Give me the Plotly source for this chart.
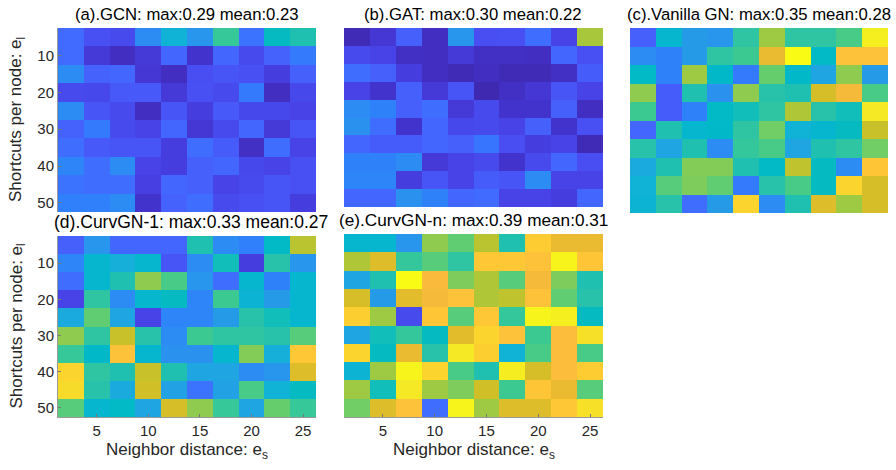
import plotly.graph_objects as go

# ---------------- data ----------------
x_dist = [2.5, 5, 7.5, 10, 12.5, 15, 17.5, 20, 22.5, 25]      # neighbor distance e_s (cell centres)
y_short = [5, 10, 15, 20, 25, 30, 35, 40, 45, 50]              # shortcuts per node e_l (cell centres)
x_ticks = [5, 10, 15, 20, 25]
y_ticks = [10, 20, 30, 40, 50]

titles = [
    "(a).GCN: max:0.29 mean:0.23",
    "(b).GAT: max:0.30 mean:0.22",
    "(c).Vanilla GN: max:0.35 mean:0.28",
    "(d).CurvGN-1: max:0.33 mean:0.27",
    "(e).CurvGN-n: max:0.39 mean:0.31",
]

gcn = [
    [0.224, 0.212, 0.209, 0.238, 0.259, 0.243, 0.281, 0.227, 0.267, 0.273],
    [0.224, 0.201, 0.195, 0.201, 0.222, 0.198, 0.222, 0.209, 0.220, 0.230],
    [0.238, 0.220, 0.222, 0.200, 0.195, 0.211, 0.214, 0.212, 0.203, 0.219],
    [0.209, 0.208, 0.216, 0.216, 0.201, 0.212, 0.209, 0.230, 0.195, 0.208],
    [0.238, 0.214, 0.209, 0.195, 0.214, 0.203, 0.216, 0.208, 0.208, 0.206],
    [0.220, 0.230, 0.209, 0.206, 0.222, 0.200, 0.209, 0.222, 0.201, 0.214],
    [0.225, 0.216, 0.214, 0.214, 0.203, 0.225, 0.217, 0.196, 0.225, 0.206],
    [0.235, 0.225, 0.238, 0.206, 0.203, 0.219, 0.222, 0.208, 0.206, 0.212],
    [0.227, 0.225, 0.225, 0.204, 0.222, 0.219, 0.206, 0.209, 0.214, 0.212],
    [0.232, 0.232, 0.238, 0.198, 0.220, 0.225, 0.209, 0.212, 0.214, 0.203],
]
gat = [
    [0.193, 0.200, 0.219, 0.195, 0.243, 0.211, 0.212, 0.225, 0.206, 0.304],
    [0.209, 0.206, 0.196, 0.195, 0.201, 0.196, 0.196, 0.195, 0.222, 0.212],
    [0.225, 0.219, 0.203, 0.195, 0.193, 0.195, 0.193, 0.193, 0.196, 0.217],
    [0.206, 0.198, 0.219, 0.201, 0.214, 0.192, 0.196, 0.200, 0.214, 0.206],
    [0.238, 0.233, 0.219, 0.225, 0.201, 0.209, 0.198, 0.198, 0.219, 0.195],
    [0.241, 0.225, 0.198, 0.222, 0.208, 0.209, 0.206, 0.219, 0.198, 0.212],
    [0.222, 0.217, 0.217, 0.222, 0.219, 0.228, 0.211, 0.203, 0.206, 0.193],
    [0.233, 0.233, 0.238, 0.201, 0.206, 0.209, 0.198, 0.209, 0.222, 0.211],
    [0.235, 0.235, 0.203, 0.214, 0.206, 0.217, 0.214, 0.238, 0.206, 0.206],
    [0.222, 0.222, 0.241, 0.233, 0.222, 0.224, 0.206, 0.206, 0.203, 0.222],
]
vanilla_gn = [
    [0.219, 0.262, 0.246, 0.243, 0.278, 0.302, 0.278, 0.278, 0.286, 0.345],
    [0.238, 0.233, 0.246, 0.278, 0.283, 0.318, 0.350, 0.265, 0.326, 0.326],
    [0.265, 0.233, 0.302, 0.264, 0.230, 0.292, 0.264, 0.251, 0.299, 0.246],
    [0.299, 0.217, 0.273, 0.241, 0.299, 0.275, 0.273, 0.313, 0.321, 0.286],
    [0.283, 0.217, 0.233, 0.265, 0.270, 0.278, 0.305, 0.275, 0.270, 0.342],
    [0.222, 0.273, 0.262, 0.264, 0.278, 0.294, 0.259, 0.262, 0.267, 0.310],
    [0.275, 0.251, 0.273, 0.238, 0.280, 0.286, 0.251, 0.273, 0.278, 0.294],
    [0.254, 0.273, 0.297, 0.297, 0.273, 0.265, 0.308, 0.267, 0.238, 0.328],
    [0.259, 0.289, 0.296, 0.291, 0.230, 0.275, 0.286, 0.267, 0.334, 0.313],
    [0.260, 0.275, 0.225, 0.246, 0.334, 0.238, 0.273, 0.315, 0.302, 0.313],
]
curvgn_1 = [
    [0.219, 0.243, 0.222, 0.222, 0.222, 0.273, 0.238, 0.232, 0.265, 0.307],
    [0.235, 0.262, 0.257, 0.262, 0.214, 0.238, 0.270, 0.203, 0.275, 0.243],
    [0.225, 0.262, 0.273, 0.299, 0.286, 0.243, 0.225, 0.262, 0.233, 0.262],
    [0.206, 0.278, 0.238, 0.262, 0.267, 0.235, 0.283, 0.260, 0.246, 0.262],
    [0.254, 0.291, 0.251, 0.206, 0.235, 0.235, 0.246, 0.275, 0.270, 0.262],
    [0.299, 0.278, 0.310, 0.275, 0.238, 0.283, 0.278, 0.278, 0.275, 0.289],
    [0.281, 0.264, 0.326, 0.262, 0.241, 0.241, 0.262, 0.297, 0.257, 0.329],
    [0.334, 0.278, 0.273, 0.310, 0.273, 0.251, 0.251, 0.238, 0.243, 0.315],
    [0.337, 0.275, 0.254, 0.312, 0.249, 0.227, 0.249, 0.286, 0.259, 0.267],
    [0.289, 0.262, 0.265, 0.251, 0.313, 0.299, 0.281, 0.251, 0.292, 0.281],
]
curvgn_n = [
    [0.262, 0.262, 0.243, 0.299, 0.291, 0.307, 0.273, 0.331, 0.318, 0.318],
    [0.305, 0.315, 0.280, 0.289, 0.278, 0.329, 0.329, 0.326, 0.347, 0.328],
    [0.251, 0.273, 0.350, 0.323, 0.296, 0.305, 0.289, 0.321, 0.296, 0.273],
    [0.313, 0.246, 0.316, 0.321, 0.326, 0.305, 0.308, 0.326, 0.291, 0.275],
    [0.332, 0.302, 0.209, 0.328, 0.289, 0.329, 0.280, 0.347, 0.345, 0.267],
    [0.251, 0.270, 0.280, 0.267, 0.316, 0.334, 0.326, 0.283, 0.324, 0.339],
    [0.334, 0.267, 0.318, 0.275, 0.342, 0.332, 0.259, 0.286, 0.324, 0.286],
    [0.260, 0.302, 0.347, 0.334, 0.286, 0.273, 0.344, 0.313, 0.324, 0.331],
    [0.302, 0.270, 0.342, 0.302, 0.296, 0.312, 0.283, 0.328, 0.318, 0.289],
    [0.294, 0.315, 0.326, 0.225, 0.347, 0.302, 0.315, 0.315, 0.329, 0.339],
]

panels = [gcn, gat, vanilla_gn, curvgn_1, curvgn_n]
c_min, c_max = 0.19, 0.35

# ---------------- parula colormap ----------------
parula = [
    (0.2422, 0.1504, 0.6603), (0.2504, 0.1650, 0.7076), (0.2578, 0.1818, 0.7511), (0.2647, 0.1978, 0.7952),
    (0.2706, 0.2147, 0.8364), (0.2751, 0.2342, 0.8710), (0.2783, 0.2559, 0.8991), (0.2803, 0.2782, 0.9221),
    (0.2813, 0.3006, 0.9414), (0.2810, 0.3228, 0.9579), (0.2795, 0.3447, 0.9717), (0.2760, 0.3667, 0.9829),
    (0.2699, 0.3892, 0.9906), (0.2602, 0.4123, 0.9952), (0.2440, 0.4358, 0.9988), (0.2206, 0.4603, 0.9973),
    (0.1963, 0.4847, 0.9892), (0.1834, 0.5074, 0.9798), (0.1786, 0.5289, 0.9682), (0.1764, 0.5499, 0.9520),
    (0.1687, 0.5703, 0.9359), (0.1540, 0.5902, 0.9218), (0.1460, 0.6091, 0.9079), (0.1380, 0.6276, 0.8973),
    (0.1248, 0.6459, 0.8883), (0.1113, 0.6635, 0.8763), (0.0952, 0.6798, 0.8598), (0.0689, 0.6948, 0.8394),
    (0.0297, 0.7082, 0.8163), (0.0036, 0.7203, 0.7917), (0.0067, 0.7312, 0.7660), (0.0433, 0.7411, 0.7394),
    (0.0964, 0.7500, 0.7120), (0.1408, 0.7584, 0.6842), (0.1717, 0.7670, 0.6554), (0.1938, 0.7758, 0.6251),
    (0.2161, 0.7843, 0.5923), (0.2470, 0.7918, 0.5567), (0.2906, 0.7973, 0.5188), (0.3406, 0.8008, 0.4789),
    (0.3909, 0.8029, 0.4354), (0.4456, 0.8024, 0.3909), (0.5044, 0.7993, 0.3480), (0.5616, 0.7942, 0.3045),
    (0.6174, 0.7876, 0.2612), (0.6720, 0.7793, 0.2227), (0.7242, 0.7698, 0.1910), (0.7738, 0.7598, 0.1646),
    (0.8203, 0.7498, 0.1535), (0.8634, 0.7406, 0.1596), (0.9035, 0.7330, 0.1774), (0.9393, 0.7288, 0.2100),
    (0.9728, 0.7298, 0.2394), (0.9956, 0.7434, 0.2371), (0.9970, 0.7659, 0.2199), (0.9952, 0.7893, 0.2028),
    (0.9892, 0.8136, 0.1885), (0.9786, 0.8386, 0.1766), (0.9676, 0.8639, 0.1643), (0.9610, 0.8890, 0.1537),
    (0.9597, 0.9135, 0.1423), (0.9628, 0.9373, 0.1265), (0.9691, 0.9606, 0.1064), (0.9769, 0.9839, 0.0805),
]
n = len(parula)
colorscale = [[i / (n - 1), "rgb(%d,%d,%d)" % tuple(round(c * 255) for c in rgb)] for i, rgb in enumerate(parula)]

# ---------------- layout geometry (pixels) ----------------
W, H = 896, 470
boxes = [  # (x0, x1, y0, y1) in pixels, y from top
    (58, 316, 28, 212),
    (344, 603, 28, 207),
    (630, 888, 28, 213),
    (58, 316, 236, 417),
    (344, 603, 234, 417),
]
title_sizes = [16.7, 16.7, 16.7, 17.5, 17.2]
title_x = [187, 473, 759, 191, 473]
show_y = [True, False, False, True, False]
show_x = [False, False, False, True, True]

fig = go.Figure()
FONT = "Liberation Sans, Arial, sans-serif"
tick_font = dict(family=FONT, size=15, color="#262626")
label_font = dict(family=FONT, size=17, color="#262626")

annotations = []
for i, (z, (x0, x1, y0, y1)) in enumerate(zip(panels, boxes)):
    k = "" if i == 0 else str(i + 1)
    fig.add_trace(go.Heatmap(
        x=x_dist, y=y_short, z=z, colorscale=colorscale, zmin=c_min, zmax=c_max,
        showscale=False, xaxis="x" + k, yaxis="y" + k, xgap=0, ygap=0,
    ))
    xa = dict(
        domain=[x0 / W, x1 / W], anchor="y" + k, range=[1.25, 26.25],
        tickvals=x_ticks if show_x[i] else [], showticklabels=show_x[i],
        ticks="inside" if show_x[i] else "", ticklen=3, tickcolor="#777777",
        showline=show_x[i], linecolor="#999999", linewidth=1,
        showgrid=False, zeroline=False, tickfont=tick_font, automargin=False,
    )
    ya = dict(
        domain=[1 - y1 / H, 1 - y0 / H], anchor="x" + k, range=[52.5, 2.5],
        tickvals=y_ticks if show_y[i] else [], showticklabels=show_y[i],
        ticks="inside" if show_y[i] else "", ticklen=3, tickcolor="#777777",
        showline=show_y[i], linecolor="#999999", linewidth=1,
        showgrid=False, zeroline=False, tickfont=tick_font, automargin=False,
    )
    fig.update_layout(**{"xaxis" + k: xa, "yaxis" + k: ya})
    annotations.append(dict(
        text=titles[i], x=title_x[i] / W, y=1 - (y0 - 14) / H,
        xref="paper", yref="paper", showarrow=False,
        font=dict(family=FONT, size=title_sizes[i], color="black"),
        xanchor="center", yanchor="middle",
    ))

# axis titles
for yc in [(28 + 212) / 2, (236 + 417) / 2]:
    annotations.append(dict(
        text="Shortcuts per node: e<sub>l</sub>", x=17 / W, y=1 - yc / H,
        xref="paper", yref="paper", showarrow=False, textangle=-90,
        font=label_font, xanchor="center", yanchor="middle",
    ))
for (x0, x1) in [(58, 316), (344, 603)]:
    annotations.append(dict(
        text="Neighbor distance: e<sub>s</sub>", x=(x0 + x1) / 2 / W, y=1 - 451 / H,
        xref="paper", yref="paper", showarrow=False,
        font=label_font, xanchor="center", yanchor="middle",
    ))

fig.update_layout(
    width=W, height=H, margin=dict(l=0, r=0, t=0, b=0, autoexpand=False),
    paper_bgcolor="white", plot_bgcolor="white",
    annotations=annotations, showlegend=False,
)
fig.write_html(
    "out.html",
    config={"displayModeBar": False},
    post_script="document.body.style.margin='0px';document.body.style.padding='0px';document.body.style.overflow='hidden';",
)
